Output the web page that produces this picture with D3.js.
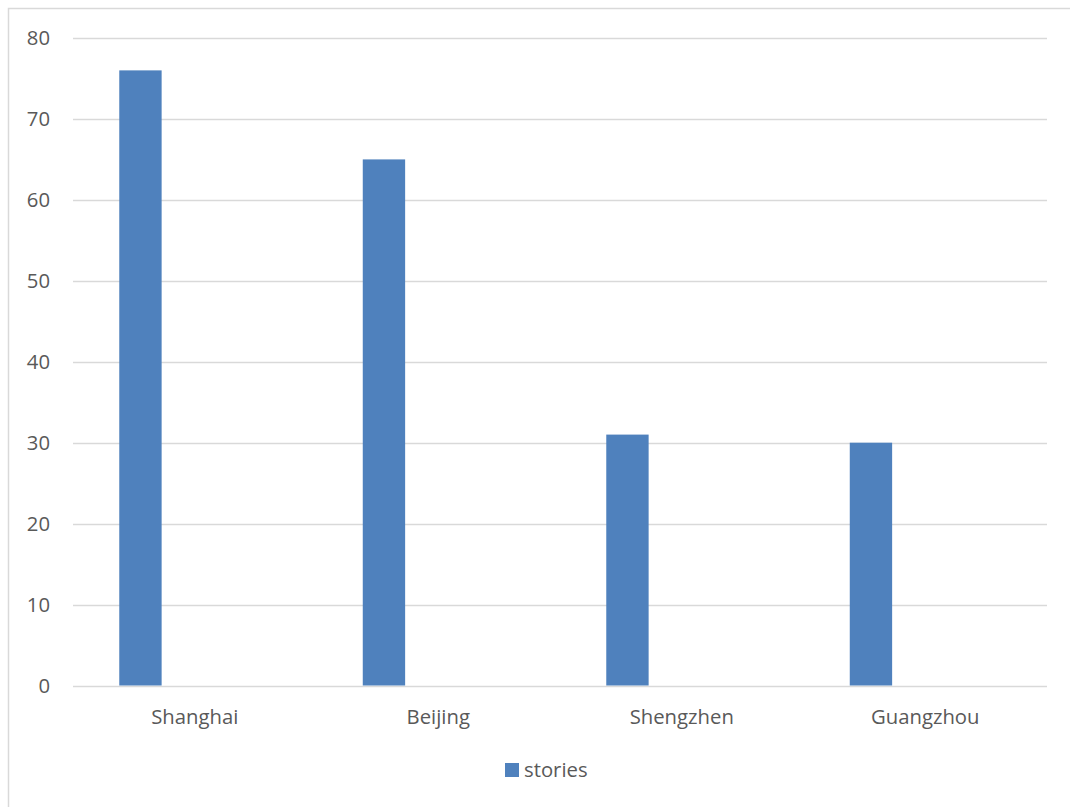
<!DOCTYPE html>
<html>
<head>
<meta charset="utf-8">
<script src="https://cdn.jsdelivr.net/npm/d3@7"></script>
<style>
  html, body { margin: 0; padding: 0; background: #ffffff; }
  svg { display: block; }
  text { font-family: "Open Sans", "Noto Sans", sans-serif; fill: #595959; }
</style>
</head>
<body>
<svg id="chart" width="1070" height="807"></svg>
<script>
const categories = ["Shanghai", "Beijing", "Shengzhen", "Guangzhou"];
const stories = [76, 65, 31, 30];
const yTicks = [0, 10, 20, 30, 40, 50, 60, 70, 80];
const seriesName = "stories";

const svg = d3.select("#chart");
const W = 1070, H = 807;
const plot = { left: 73, right: 1047, top: 38, bottom: 685.5 };
const FS = 20.3;

// chart border
svg.append("rect")
  .attr("x", 8.5).attr("y", 8.5)
  .attr("width", W + 20).attr("height", H + 20)
  .attr("fill", "#ffffff")
  .attr("stroke", "#d9d9d9").attr("stroke-width", 1.5);

const x = d3.scaleBand().domain(categories).range([plot.left, plot.right]).padding(0);
const y = d3.scaleLinear().domain([0, 80]).range([plot.bottom, plot.top]);

// gridlines
svg.append("g").selectAll("line").data(yTicks).join("line")
  .attr("x1", plot.left).attr("x2", plot.right)
  .attr("y1", d => Math.round(y(d)) + 0.5).attr("y2", d => Math.round(y(d)) + 0.5)
  .attr("stroke", "#d9d9d9").attr("stroke-width", 1.5);

// y axis labels
const yAxis = d3.axisLeft(y).tickValues(yTicks).tickSize(0).tickPadding(0);
const gy = svg.append("g").attr("transform", `translate(50,0)`).call(yAxis);
gy.select(".domain").remove();
gy.selectAll("text").attr("font-size", FS).attr("fill", "#595959")
  .style("font-family", '"Open Sans", sans-serif');

// bars (first of clustered slots; second slot is empty)
const offFrac = 0.19, wFrac = 0.174;
svg.append("g").selectAll("rect").data(categories).join("rect")
  .attr("x", (d) => x(d) + x.bandwidth() * offFrac)
  .attr("width", x.bandwidth() * wFrac)
  .attr("y", (d, i) => y(stories[i]))
  .attr("height", (d, i) => y(0) - y(stories[i]))
  .attr("fill", "#4f81bd");

// x axis labels
const xAxis = d3.axisBottom(x).tickSize(0).tickPadding(0);
const gx = svg.append("g").attr("transform", `translate(0,${plot.bottom + 24})`).call(xAxis);
gx.select(".domain").remove();
gx.selectAll("text").attr("font-size", FS).attr("fill", "#595959")
  .style("font-family", '"Open Sans", sans-serif');

// legend
const lg = svg.append("g");
lg.append("rect").attr("x", 505).attr("y", 763).attr("width", 14).attr("height", 14).attr("fill", "#4f81bd");
lg.append("text").attr("x", 524).attr("y", 777).attr("font-size", FS).text(seriesName);
</script>
</body>
</html>
